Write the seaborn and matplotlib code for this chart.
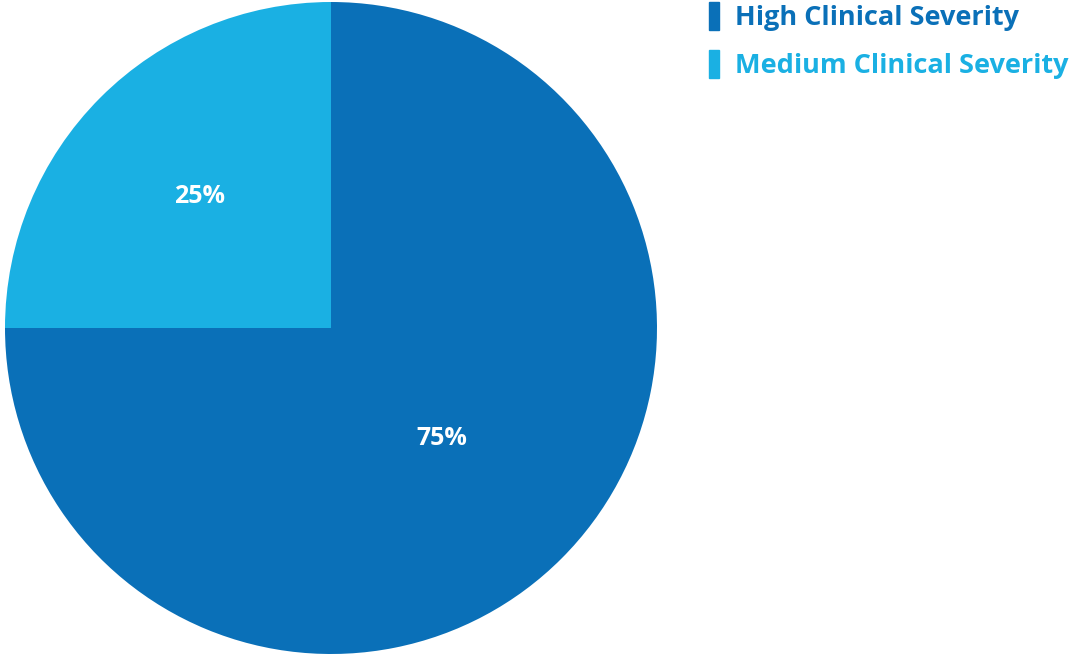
import matplotlib
matplotlib.use("Agg")
import matplotlib.pyplot as plt
import seaborn as sns
import numpy as np

# Данные диаграммы
categories = ["High Clinical Severity", "Medium Clinical Severity"]
shares = [75, 25]
colors = ["#0A70B8", "#1AB0E3"]
label_dist = [0.48, 0.57]  # расстояние подписи от центра (доля радиуса)

sns.set_theme(style="white")
plt.rcParams["font.family"] = ["Open Sans", "DejaVu Sans"]

fig = plt.figure(figsize=(10.70, 6.56), dpi=100)
ax = fig.add_axes([5 / 1070, 2 / 656, 652 / 1070, 652 / 656])

wedges, texts, autotexts = ax.pie(
    shares, colors=colors, startangle=90, counterclock=False,
    autopct="%d%%", wedgeprops=dict(linewidth=0),
    textprops=dict(color="white", fontsize=18, fontweight="bold"),
)
# Подписи процентов по центру угла сектора
for w, t, d in zip(wedges, autotexts, label_dist):
    ang = np.deg2rad((w.theta1 + w.theta2) / 2)
    t.set_position((d * np.cos(ang), d * np.sin(ang)))

ax.set_xlim(-1, 1)
ax.set_ylim(-1, 1)
ax.set_aspect("equal")
ax.axis("off")

# Легенда: вертикальные полоски и цветной текст
for i, (name, c) in enumerate(zip(categories, colors)):
    y_top = 1 - (2 + i * 48) / 656
    fig.patches.append(plt.Rectangle((709 / 1070, y_top - 28 / 656), 10 / 1070, 28 / 656,
                                     transform=fig.transFigure, color=c))
    fig.text(735 / 1070, y_top - 16 / 656, name, color=c, fontsize=19.5,
             fontweight="bold", va="center", ha="left")

fig.savefig("out.png", dpi=100)
